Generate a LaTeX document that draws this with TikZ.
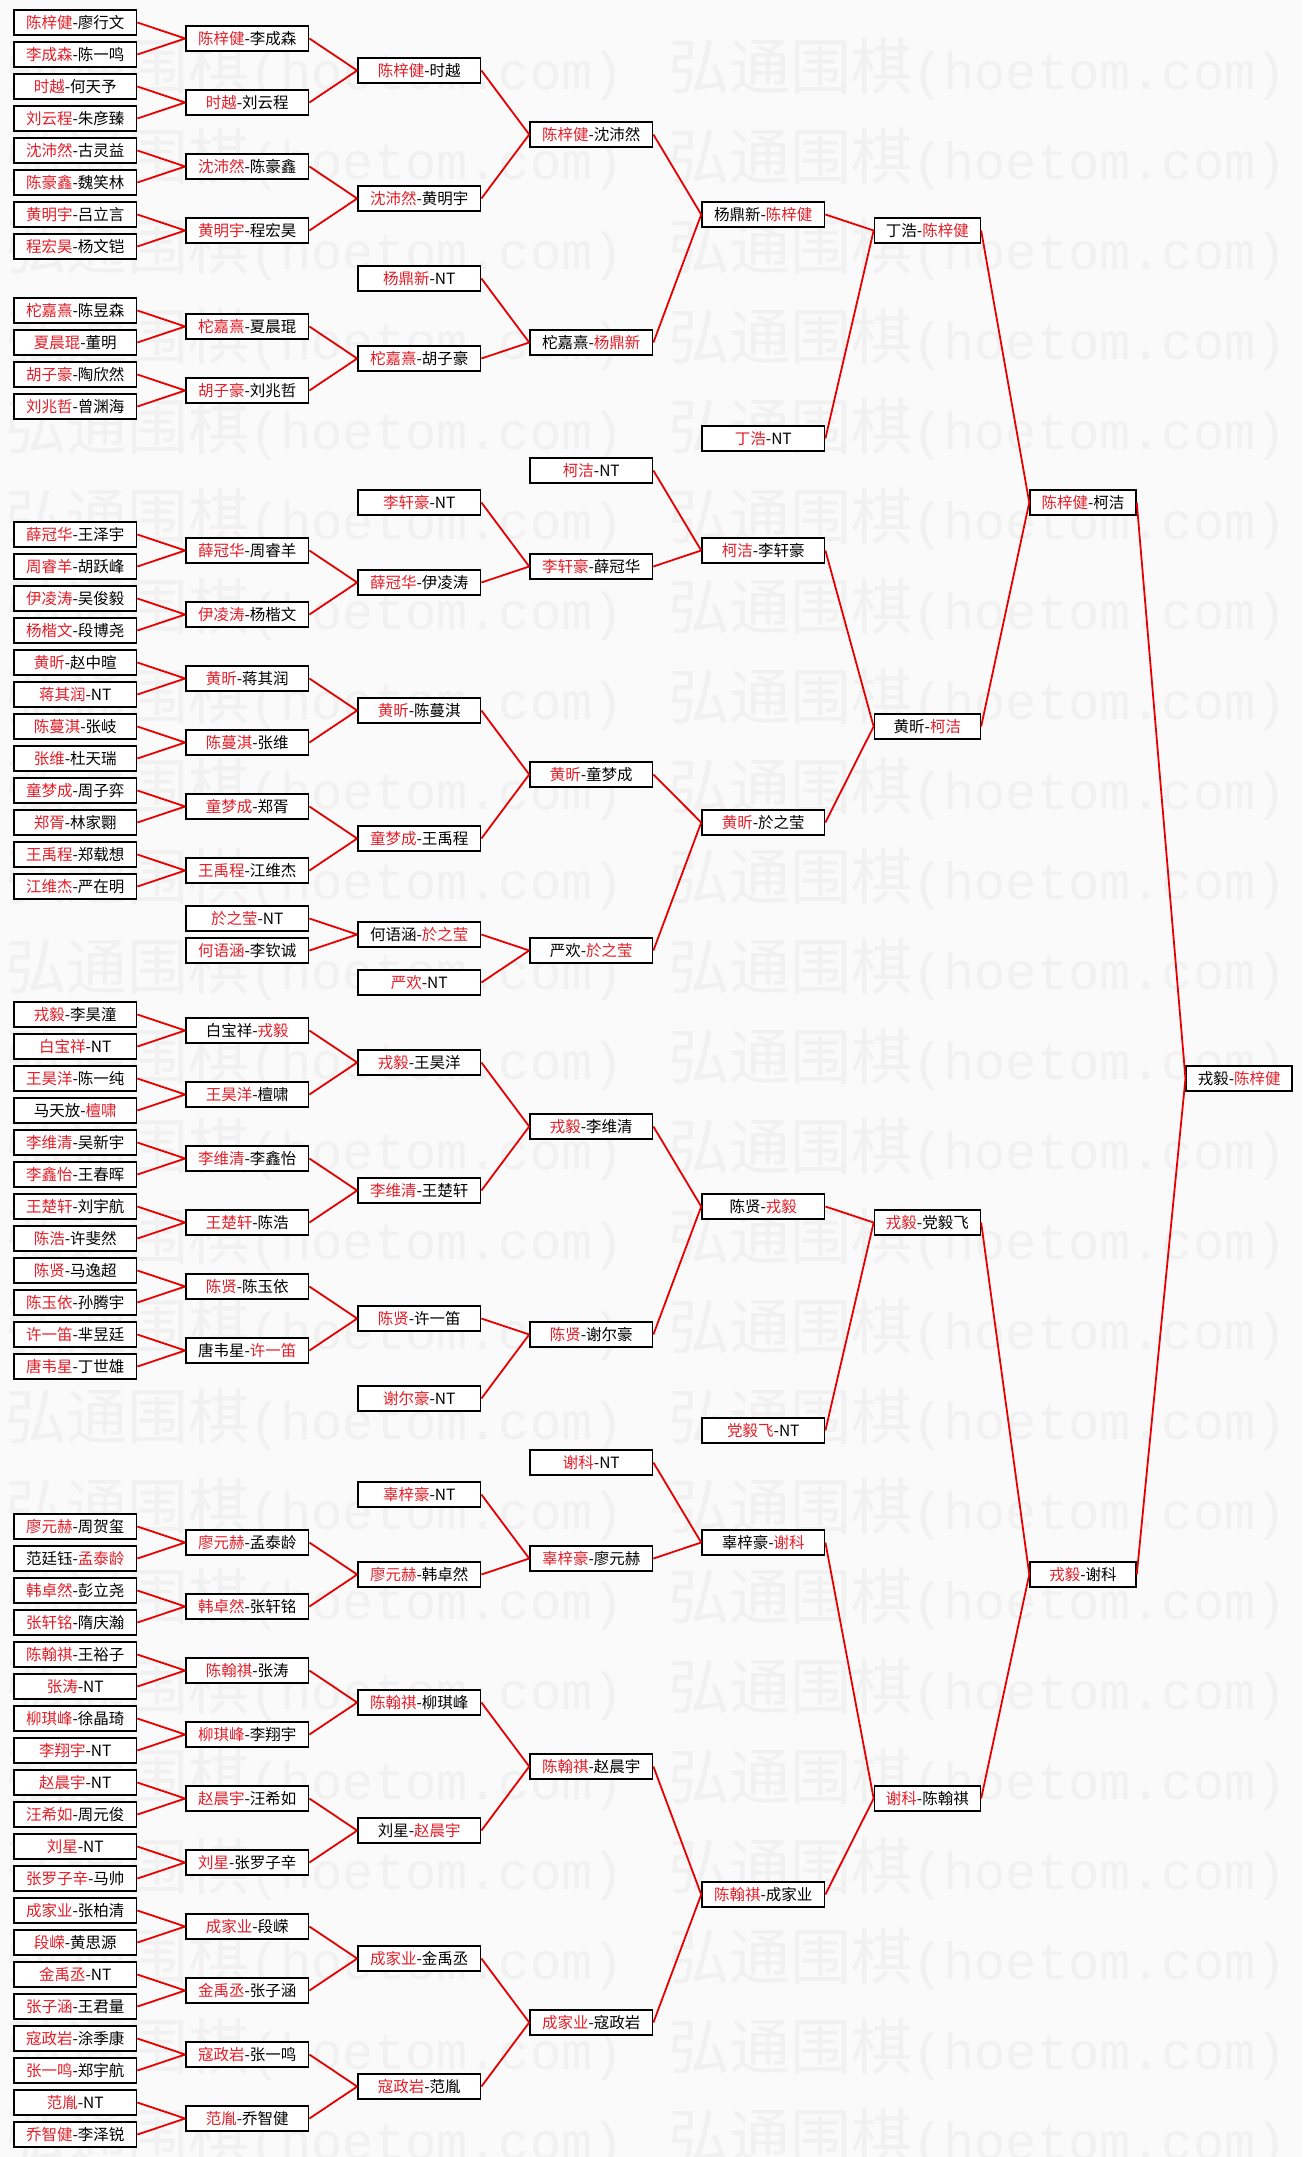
\documentclass[tikz,border=0pt]{standalone}
\usepackage{fontspec}
\setmainfont{Noto Sans CJK SC}
\newfontfamily\wmlatin{Liberation Mono}
\usepackage{xcolor}
\usepackage{tikz}
\definecolor{winred}{RGB}{228,30,40}
\definecolor{linkred}{RGB}{232,0,0}
\definecolor{pagebg}{RGB}{250,250,250}
\definecolor{wmgray}{RGB}{241,241,241}
\newcommand{\win}[1]{\textcolor{winred}{#1}}
\newcommand{\wmtext}{弘通围棋{\wmlatin\fontsize{52pt}{52pt}\selectfont(hoetom.com)}}

\begin{document}
\begin{tikzpicture}[
  x=1pt, y=-32pt,
  box/.style={draw, line width=1.5pt, fill=white, minimum width=122.7pt, minimum height=25pt, inner sep=0pt, font=\fontsize{15.5pt}{16pt}\selectfont},
  late/.style={box, minimum width=106pt},
  link/.style={draw=linkred, line width=1.8pt},
  wmark/.style={anchor=west, inner sep=0pt, text=wmgray, font=\fontsize{61pt}{61pt}\selectfont}]
\useasboundingbox (0,-0.703125) rectangle (1302,66.703125);
\fill[pagebg] (0,-0.703125) rectangle (1302,66.703125);
\foreach \k in {0,...,23} {
  \node[wmark] (wl\k) at (5,1.4531+2.8125*\k) {\wmtext};
  \node[wmark] (wr\k) at (668,1.4531+2.8125*\k) {\wmtext};
}
\node[box] (a1) at (75.3,0) {\win{陈梓健}-廖行文};
\node[box] (a2) at (75.3,1) {\win{李成森}-陈一鸣};
\node[box] (a3) at (75.3,2) {\win{时越}-何天予};
\node[box] (a4) at (75.3,3) {\win{刘云程}-朱彦臻};
\node[box] (a5) at (75.3,4) {\win{沈沛然}-古灵益};
\node[box] (a6) at (75.3,5) {\win{陈豪鑫}-魏笑林};
\node[box] (a7) at (75.3,6) {\win{黄明宇}-吕立言};
\node[box] (a8) at (75.3,7) {\win{程宏昊}-杨文铠};
\node[box] (a9) at (75.3,9) {\win{柁嘉熹}-陈昱森};
\node[box] (a10) at (75.3,10) {\win{夏晨琨}-董明};
\node[box] (a11) at (75.3,11) {\win{胡子豪}-陶欣然};
\node[box] (a12) at (75.3,12) {\win{刘兆哲}-曾渊海};
\node[box] (a13) at (75.3,16) {\win{薛冠华}-王泽宇};
\node[box] (a14) at (75.3,17) {\win{周睿羊}-胡跃峰};
\node[box] (a15) at (75.3,18) {\win{伊凌涛}-吴俊毅};
\node[box] (a16) at (75.3,19) {\win{杨楷文}-段博尧};
\node[box] (a17) at (75.3,20) {\win{黄昕}-赵中暄};
\node[box] (a18) at (75.3,21) {\win{蒋其润}-NT};
\node[box] (a19) at (75.3,22) {\win{陈蔓淇}-张岐};
\node[box] (a20) at (75.3,23) {\win{张维}-杜天瑞};
\node[box] (a21) at (75.3,24) {\win{童梦成}-周子弈};
\node[box] (a22) at (75.3,25) {\win{郑胥}-林家翾};
\node[box] (a23) at (75.3,26) {\win{王禹程}-郑载想};
\node[box] (a24) at (75.3,27) {\win{江维杰}-严在明};
\node[box] (a25) at (75.3,31) {\win{戎毅}-李昊潼};
\node[box] (a26) at (75.3,32) {\win{白宝祥}-NT};
\node[box] (a27) at (75.3,33) {\win{王昊洋}-陈一纯};
\node[box] (a28) at (75.3,34) {马天放-\win{檀啸}};
\node[box] (a29) at (75.3,35) {\win{李维清}-吴新宇};
\node[box] (a30) at (75.3,36) {\win{李鑫怡}-王春晖};
\node[box] (a31) at (75.3,37) {\win{王楚轩}-刘宇航};
\node[box] (a32) at (75.3,38) {\win{陈浩}-许斐然};
\node[box] (a33) at (75.3,39) {\win{陈贤}-马逸超};
\node[box] (a34) at (75.3,40) {\win{陈玉依}-孙腾宇};
\node[box] (a35) at (75.3,41) {\win{许一笛}-芈昱廷};
\node[box] (a36) at (75.3,42) {\win{唐韦星}-丁世雄};
\node[box] (a37) at (75.3,47) {\win{廖元赫}-周贺玺};
\node[box] (a38) at (75.3,48) {范廷钰-\win{孟泰龄}};
\node[box] (a39) at (75.3,49) {\win{韩卓然}-彭立尧};
\node[box] (a40) at (75.3,50) {\win{张轩铭}-隋庆瀚};
\node[box] (a41) at (75.3,51) {\win{陈翰祺}-王裕子};
\node[box] (a42) at (75.3,52) {\win{张涛}-NT};
\node[box] (a43) at (75.3,53) {\win{柳琪峰}-徐晶琦};
\node[box] (a44) at (75.3,54) {\win{李翔宇}-NT};
\node[box] (a45) at (75.3,55) {\win{赵晨宇}-NT};
\node[box] (a46) at (75.3,56) {\win{汪希如}-周元俊};
\node[box] (a47) at (75.3,57) {\win{刘星}-NT};
\node[box] (a48) at (75.3,58) {\win{张罗子辛}-马帅};
\node[box] (a49) at (75.3,59) {\win{成家业}-张柏清};
\node[box] (a50) at (75.3,60) {\win{段嵘}-黄思源};
\node[box] (a51) at (75.3,61) {\win{金禹丞}-NT};
\node[box] (a52) at (75.3,62) {\win{张子涵}-王君量};
\node[box] (a53) at (75.3,63) {\win{寇政岩}-涂季康};
\node[box] (a54) at (75.3,64) {\win{张一鸣}-郑宇航};
\node[box] (a55) at (75.3,65) {\win{范胤}-NT};
\node[box] (a56) at (75.3,66) {\win{乔智健}-李泽锐};
\node[box] (b1) at (247.3,0.5) {\win{陈梓健}-李成森};
\node[box] (b2) at (247.3,2.5) {\win{时越}-刘云程};
\node[box] (b3) at (247.3,4.5) {\win{沈沛然}-陈豪鑫};
\node[box] (b4) at (247.3,6.5) {\win{黄明宇}-程宏昊};
\node[box] (b5) at (247.3,9.5) {\win{柁嘉熹}-夏晨琨};
\node[box] (b6) at (247.3,11.5) {\win{胡子豪}-刘兆哲};
\node[box] (b7) at (247.3,16.5) {\win{薛冠华}-周睿羊};
\node[box] (b8) at (247.3,18.5) {\win{伊凌涛}-杨楷文};
\node[box] (b9) at (247.3,20.5) {\win{黄昕}-蒋其润};
\node[box] (b10) at (247.3,22.5) {\win{陈蔓淇}-张维};
\node[box] (b11) at (247.3,24.5) {\win{童梦成}-郑胥};
\node[box] (b12) at (247.3,26.5) {\win{王禹程}-江维杰};
\node[box] (b13) at (247.3,28) {\win{於之莹}-NT};
\node[box] (b14) at (247.3,29) {\win{何语涵}-李钦诚};
\node[box] (b15) at (247.3,31.5) {白宝祥-\win{戎毅}};
\node[box] (b16) at (247.3,33.5) {\win{王昊洋}-檀啸};
\node[box] (b17) at (247.3,35.5) {\win{李维清}-李鑫怡};
\node[box] (b18) at (247.3,37.5) {\win{王楚轩}-陈浩};
\node[box] (b19) at (247.3,39.5) {\win{陈贤}-陈玉依};
\node[box] (b20) at (247.3,41.5) {唐韦星-\win{许一笛}};
\node[box] (b21) at (247.3,47.5) {\win{廖元赫}-孟泰龄};
\node[box] (b22) at (247.3,49.5) {\win{韩卓然}-张轩铭};
\node[box] (b23) at (247.3,51.5) {\win{陈翰祺}-张涛};
\node[box] (b24) at (247.3,53.5) {\win{柳琪峰}-李翔宇};
\node[box] (b25) at (247.3,55.5) {\win{赵晨宇}-汪希如};
\node[box] (b26) at (247.3,57.5) {\win{刘星}-张罗子辛};
\node[box] (b27) at (247.3,59.5) {\win{成家业}-段嵘};
\node[box] (b28) at (247.3,61.5) {\win{金禹丞}-张子涵};
\node[box] (b29) at (247.3,63.5) {\win{寇政岩}-张一鸣};
\node[box] (b30) at (247.3,65.5) {\win{范胤}-乔智健};
\node[box] (c1) at (419.3,1.5) {\win{陈梓健}-时越};
\node[box] (c2) at (419.3,5.5) {\win{沈沛然}-黄明宇};
\node[box] (c3) at (419.3,8) {\win{杨鼎新}-NT};
\node[box] (c4) at (419.3,10.5) {\win{柁嘉熹}-胡子豪};
\node[box] (c5) at (419.3,15) {\win{李轩豪}-NT};
\node[box] (c6) at (419.3,17.5) {\win{薛冠华}-伊凌涛};
\node[box] (c7) at (419.3,21.5) {\win{黄昕}-陈蔓淇};
\node[box] (c8) at (419.3,25.5) {\win{童梦成}-王禹程};
\node[box] (c9) at (419.3,28.5) {何语涵-\win{於之莹}};
\node[box] (c10) at (419.3,30) {\win{严欢}-NT};
\node[box] (c11) at (419.3,32.5) {\win{戎毅}-王昊洋};
\node[box] (c12) at (419.3,36.5) {\win{李维清}-王楚轩};
\node[box] (c13) at (419.3,40.5) {\win{陈贤}-许一笛};
\node[box] (c14) at (419.3,43) {\win{谢尔豪}-NT};
\node[box] (c15) at (419.3,46) {\win{辜梓豪}-NT};
\node[box] (c16) at (419.3,48.5) {\win{廖元赫}-韩卓然};
\node[box] (c17) at (419.3,52.5) {\win{陈翰祺}-柳琪峰};
\node[box] (c18) at (419.3,56.5) {刘星-\win{赵晨宇}};
\node[box] (c19) at (419.3,60.5) {\win{成家业}-金禹丞};
\node[box] (c20) at (419.3,64.5) {\win{寇政岩}-范胤};
\node[box] (d1) at (591.3,3.5) {\win{陈梓健}-沈沛然};
\node[box] (d2) at (591.3,10) {柁嘉熹-\win{杨鼎新}};
\node[box] (d3) at (591.3,14) {\win{柯洁}-NT};
\node[box] (d4) at (591.3,17) {\win{李轩豪}-薛冠华};
\node[box] (d5) at (591.3,23.5) {\win{黄昕}-童梦成};
\node[box] (d6) at (591.3,29) {严欢-\win{於之莹}};
\node[box] (d7) at (591.3,34.5) {\win{戎毅}-李维清};
\node[box] (d8) at (591.3,41) {\win{陈贤}-谢尔豪};
\node[box] (d9) at (591.3,45) {\win{谢科}-NT};
\node[box] (d10) at (591.3,48) {\win{辜梓豪}-廖元赫};
\node[box] (d11) at (591.3,54.5) {\win{陈翰祺}-赵晨宇};
\node[box] (d12) at (591.3,62.5) {\win{成家业}-寇政岩};
\node[box] (e1) at (763.3,6) {杨鼎新-\win{陈梓健}};
\node[box] (e2) at (763.3,13) {\win{丁浩}-NT};
\node[box] (e3) at (763.3,16.5) {\win{柯洁}-李轩豪};
\node[box] (e4) at (763.3,25) {\win{黄昕}-於之莹};
\node[box] (e5) at (763.3,37) {陈贤-\win{戎毅}};
\node[box] (e6) at (763.3,44) {\win{党毅飞}-NT};
\node[box] (e7) at (763.3,47.5) {辜梓豪-\win{谢科}};
\node[box] (e8) at (763.3,58.5) {\win{陈翰祺}-成家业};
\node[late] (f1) at (927.4,6.5) {丁浩-\win{陈梓健}};
\node[late] (f2) at (927.4,22) {黄昕-\win{柯洁}};
\node[late] (f3) at (927.4,37.5) {\win{戎毅}-党毅飞};
\node[late] (f4) at (927.4,55.5) {\win{谢科}-陈翰祺};
\node[late] (g1) at (1083,15) {\win{陈梓健}-柯洁};
\node[late] (g2) at (1083,48.5) {\win{戎毅}-谢科};
\node[late] (h) at (1239.2,33) {戎毅-\win{陈梓健}};
\draw[link] (a1.east) -- (b1.west) (a2.east) -- (b1.west);
\draw[link] (a3.east) -- (b2.west) (a4.east) -- (b2.west);
\draw[link] (a5.east) -- (b3.west) (a6.east) -- (b3.west);
\draw[link] (a7.east) -- (b4.west) (a8.east) -- (b4.west);
\draw[link] (a9.east) -- (b5.west) (a10.east) -- (b5.west);
\draw[link] (a11.east) -- (b6.west) (a12.east) -- (b6.west);
\draw[link] (a13.east) -- (b7.west) (a14.east) -- (b7.west);
\draw[link] (a15.east) -- (b8.west) (a16.east) -- (b8.west);
\draw[link] (a17.east) -- (b9.west) (a18.east) -- (b9.west);
\draw[link] (a19.east) -- (b10.west) (a20.east) -- (b10.west);
\draw[link] (a21.east) -- (b11.west) (a22.east) -- (b11.west);
\draw[link] (a23.east) -- (b12.west) (a24.east) -- (b12.west);
\draw[link] (a25.east) -- (b15.west) (a26.east) -- (b15.west);
\draw[link] (a27.east) -- (b16.west) (a28.east) -- (b16.west);
\draw[link] (a29.east) -- (b17.west) (a30.east) -- (b17.west);
\draw[link] (a31.east) -- (b18.west) (a32.east) -- (b18.west);
\draw[link] (a33.east) -- (b19.west) (a34.east) -- (b19.west);
\draw[link] (a35.east) -- (b20.west) (a36.east) -- (b20.west);
\draw[link] (a37.east) -- (b21.west) (a38.east) -- (b21.west);
\draw[link] (a39.east) -- (b22.west) (a40.east) -- (b22.west);
\draw[link] (a41.east) -- (b23.west) (a42.east) -- (b23.west);
\draw[link] (a43.east) -- (b24.west) (a44.east) -- (b24.west);
\draw[link] (a45.east) -- (b25.west) (a46.east) -- (b25.west);
\draw[link] (a47.east) -- (b26.west) (a48.east) -- (b26.west);
\draw[link] (a49.east) -- (b27.west) (a50.east) -- (b27.west);
\draw[link] (a51.east) -- (b28.west) (a52.east) -- (b28.west);
\draw[link] (a53.east) -- (b29.west) (a54.east) -- (b29.west);
\draw[link] (a55.east) -- (b30.west) (a56.east) -- (b30.west);
\draw[link] (b1.east) -- (c1.west) (b2.east) -- (c1.west);
\draw[link] (b3.east) -- (c2.west) (b4.east) -- (c2.west);
\draw[link] (b5.east) -- (c4.west) (b6.east) -- (c4.west);
\draw[link] (b7.east) -- (c6.west) (b8.east) -- (c6.west);
\draw[link] (b9.east) -- (c7.west) (b10.east) -- (c7.west);
\draw[link] (b11.east) -- (c8.west) (b12.east) -- (c8.west);
\draw[link] (b13.east) -- (c9.west) (b14.east) -- (c9.west);
\draw[link] (b15.east) -- (c11.west) (b16.east) -- (c11.west);
\draw[link] (b17.east) -- (c12.west) (b18.east) -- (c12.west);
\draw[link] (b19.east) -- (c13.west) (b20.east) -- (c13.west);
\draw[link] (b21.east) -- (c16.west) (b22.east) -- (c16.west);
\draw[link] (b23.east) -- (c17.west) (b24.east) -- (c17.west);
\draw[link] (b25.east) -- (c18.west) (b26.east) -- (c18.west);
\draw[link] (b27.east) -- (c19.west) (b28.east) -- (c19.west);
\draw[link] (b29.east) -- (c20.west) (b30.east) -- (c20.west);
\draw[link] (c1.east) -- (d1.west) (c2.east) -- (d1.west);
\draw[link] (c3.east) -- (d2.west) (c4.east) -- (d2.west);
\draw[link] (c5.east) -- (d4.west) (c6.east) -- (d4.west);
\draw[link] (c7.east) -- (d5.west) (c8.east) -- (d5.west);
\draw[link] (c9.east) -- (d6.west) (c10.east) -- (d6.west);
\draw[link] (c11.east) -- (d7.west) (c12.east) -- (d7.west);
\draw[link] (c13.east) -- (d8.west) (c14.east) -- (d8.west);
\draw[link] (c15.east) -- (d10.west) (c16.east) -- (d10.west);
\draw[link] (c17.east) -- (d11.west) (c18.east) -- (d11.west);
\draw[link] (c19.east) -- (d12.west) (c20.east) -- (d12.west);
\draw[link] (d1.east) -- (e1.west) (d2.east) -- (e1.west);
\draw[link] (d3.east) -- (e3.west) (d4.east) -- (e3.west);
\draw[link] (d5.east) -- (e4.west) (d6.east) -- (e4.west);
\draw[link] (d7.east) -- (e5.west) (d8.east) -- (e5.west);
\draw[link] (d9.east) -- (e7.west) (d10.east) -- (e7.west);
\draw[link] (d11.east) -- (e8.west) (d12.east) -- (e8.west);
\draw[link] (e1.east) -- (f1.west) (e2.east) -- (f1.west);
\draw[link] (e3.east) -- (f2.west) (e4.east) -- (f2.west);
\draw[link] (e5.east) -- (f3.west) (e6.east) -- (f3.west);
\draw[link] (e7.east) -- (f4.west) (e8.east) -- (f4.west);
\draw[link] (f1.east) -- (g1.west) (f2.east) -- (g1.west);
\draw[link] (f3.east) -- (g2.west) (f4.east) -- (g2.west);
\draw[link] (g1.east) -- (h.west) (g2.east) -- (h.west);
\end{tikzpicture}
\end{document}
